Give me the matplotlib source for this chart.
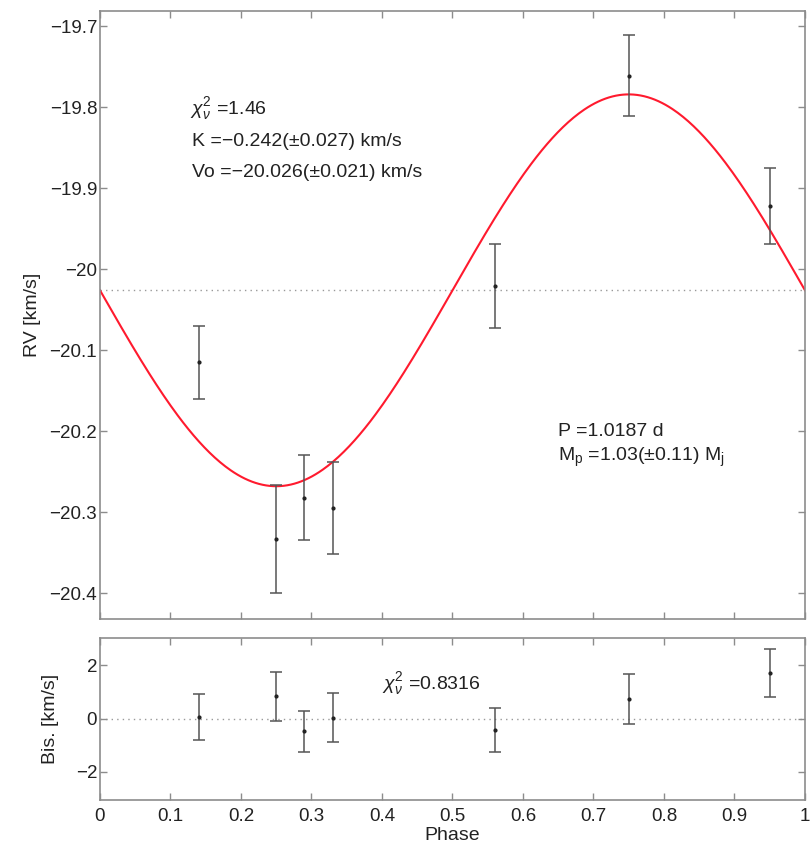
import numpy as np
import matplotlib.pyplot as plt
from matplotlib.ticker import FuncFormatter

plt.rcParams['font.family'] = ['Liberation Sans', 'DejaVu Sans']
plt.rcParams['mathtext.fontset'] = 'custom'
plt.rcParams['mathtext.rm'] = 'Liberation Sans'
plt.rcParams['mathtext.it'] = 'Liberation Sans:italic'
plt.rcParams['mathtext.bf'] = 'Liberation Sans:bold'

# Fit parameters (from the annotation)
K = -0.242
V0 = -20.026

# RV measurements
phase = [0.14, 0.25, 0.29, 0.33, 0.56, 0.75, 0.95]
rv = [-20.115, -20.333, -20.282, -20.295, -20.021, -19.761, -19.922]
rv_err = [0.045, 0.067, 0.053, 0.057, 0.052, 0.050, 0.047]

# Bisector measurements
bis = [0.05, 0.83, -0.48, 0.03, -0.44, 0.73, 1.72]
bis_err = [0.87, 0.93, 0.78, 0.92, 0.82, 0.94, 0.90]

SPINE = '#8c8c8c'
TXT = '#222222'
EB = '#555555'
TICK_FS = 13.5
LAB_FS = 14
ANN_FS = 14


def fmt(v, pos):
    s = '%g' % round(v, 4)
    return s.replace('-', '\u2212')


def style(ax):
    for s in ax.spines.values():
        s.set_color(SPINE)
        s.set_linewidth(1.2)
    ax.tick_params(direction='in', top=True, right=True, length=5,
                   color=SPINE, labelsize=TICK_FS, labelcolor=TXT, width=1)
    ax.tick_params(axis='y', pad=2)
    ax.tick_params(axis='x', pad=6)


fig = plt.figure(figsize=(8.11, 8.47), dpi=100)
ax1 = fig.add_axes([0.1233, 0.2692, 0.8693, 0.7178])
ax2 = fig.add_axes([0.1233, 0.0555, 0.8693, 0.1913])

# --- top panel
ph = np.linspace(0, 1, 400)
ax1.plot(ph, V0 + K * np.sin(2 * np.pi * ph), color='#ff1a2e', lw=1.5, zorder=2)
ax1.axhline(V0, color='#999999', ls=(0, (1, 3)), lw=1, zorder=1)
ax1.errorbar(phase, rv, yerr=rv_err, fmt='.', color='#222222', ms=4,
             ecolor=EB, elinewidth=1.1, capsize=4.5, capthick=1.1, zorder=3)
ax1.set_xlim(0, 1)
ax1.set_ylim(-20.432, -19.681)
ax1.set_xticks(np.arange(0, 1.01, 0.1))
ax1.set_xticklabels([])
ax1.set_yticks([-20.4, -20.3, -20.2, -20.1, -20.0, -19.9, -19.8, -19.7])
ax1.yaxis.set_major_formatter(FuncFormatter(fmt))
ax1.set_ylabel('RV [km/s]', fontsize=LAB_FS, color=TXT, labelpad=6)
style(ax1)

ax1.text(0.128, -19.801, r'$\chi^2_\nu$ =1.46', fontsize=ANN_FS, color=TXT, va='center')
ax1.text(0.131, -19.842, 'K =\u22120.242(\u00b10.027) km/s', fontsize=ANN_FS, color=TXT, va='center')
ax1.text(0.131, -19.880, 'Vo =\u221220.026(\u00b10.021) km/s', fontsize=ANN_FS, color=TXT, va='center')
ax1.text(0.649, -20.200, 'P =1.0187 d', fontsize=ANN_FS, color=TXT, va='center')
ax1.text(0.649, -20.232, 'M$_\\mathrm{p}$ =1.03(\u00b10.11) M$_\\mathrm{j}$',
         fontsize=ANN_FS, color=TXT, va='center')

# --- bottom panel
ax2.axhline(0, color='#999999', ls=(0, (1, 3)), lw=1, zorder=1)
ax2.errorbar(phase, bis, yerr=bis_err, fmt='.', color='#222222', ms=4,
             ecolor=EB, elinewidth=1.1, capsize=4.5, capthick=1.1, zorder=3)
ax2.set_xlim(0, 1)
ax2.set_ylim(-3.05, 3.02)
ax2.set_xticks(np.arange(0, 1.01, 0.1))
ax2.set_yticks([-2, 0, 2])
ax2.xaxis.set_major_formatter(FuncFormatter(fmt))
ax2.yaxis.set_major_formatter(FuncFormatter(fmt))
ax2.set_ylabel('Bis. [km/s]', fontsize=LAB_FS, color=TXT, labelpad=12)
ax2.set_xlabel('Phase', fontsize=LAB_FS, color=TXT, labelpad=1)
style(ax2)
ax2.text(0.40, 1.3, r'$\chi^2_\nu$ =0.8316', fontsize=ANN_FS, color=TXT, va='center')

fig.savefig('out.png', dpi=100)
